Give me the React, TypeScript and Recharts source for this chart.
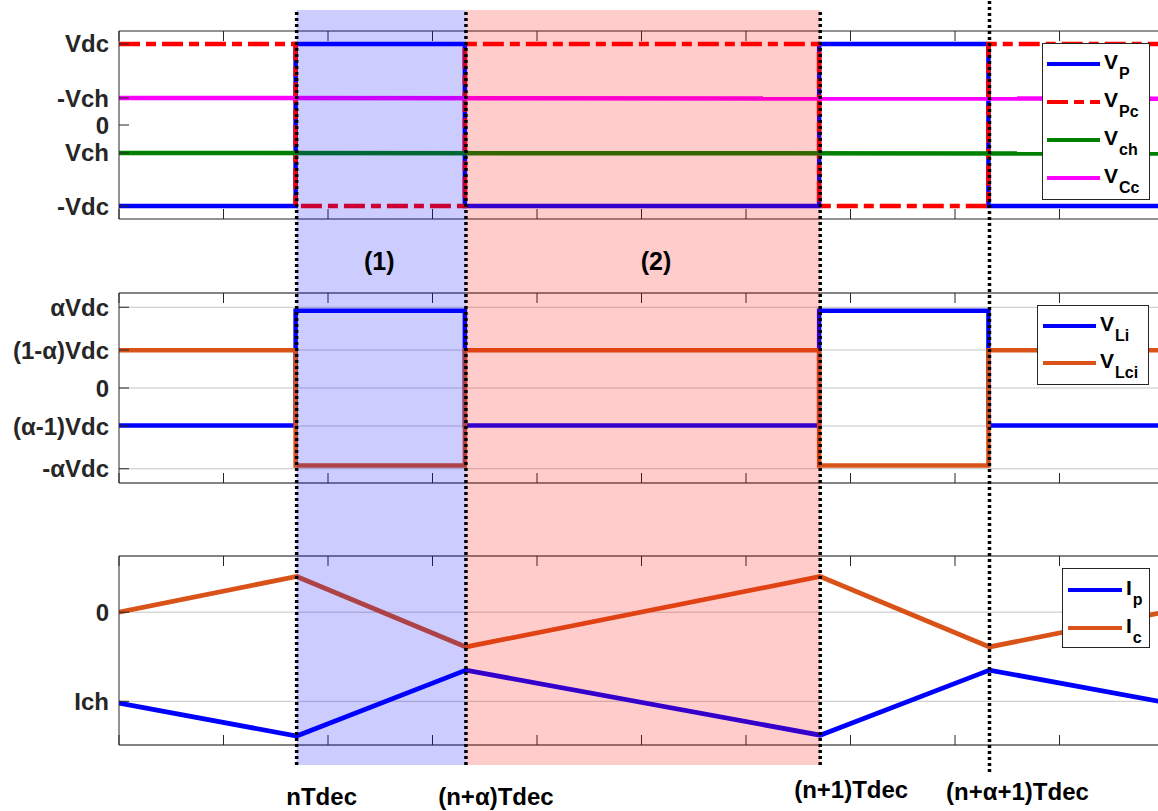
import React from 'react';
import {
  LineChart,
  Line,
  XAxis,
  YAxis,
  CartesianGrid,
  Legend,
  ReferenceArea,
  ReferenceLine,
  ComposedChart,
} from 'recharts';

const FONT = '"Liberation Sans", Arial, Helvetica, sans-serif';
const AXIS = '#262626';

// ---------- data (x in units of one axis tick) ----------
const xTicks = [0, 1, 2, 3, 4, 5, 6, 7, 8, 9, 10];

const stepTimes = [0, 1.69, 1.69, 3.31, 3.31, 6.7, 6.7, 8.32, 8.32, 10];
const vP = [-1, -1, 1, 1, -1, -1, 1, 1, -1, -1];
const vPc = [1, 1, -1, -1, 1, 1, -1, -1, 1, 1];
const flatTimes = [0, 10];
const vCh = [-0.345, -0.352];
const vCc = [0.333, 0.325];

const vLi = [-0.315, -0.315, 0.65, 0.65, -0.315, -0.315, 0.65, 0.65, -0.315, -0.315];
const vLci = [0.317, 0.317, -0.653, -0.653, 0.317, 0.317, -0.653, -0.653, 0.317, 0.317];

const rampTimes = [0, 1.7, 3.32, 6.71, 8.33, 10];
const iP = [-1.02, -1.39, -0.65, -1.38, -0.65, -1.01];
const iC = [0, 0.4, -0.39, 0.4, -0.39, 0.0];

const switchTimes = [1.7, 3.32, 6.71, 8.33];
const switchLabels = ['nTdec', '(n+α)Tdec', '(n+1)Tdec', '(n+α+1)Tdec'];

const regionStarts = [1.7, 3.32];
const regionEnds = [3.32, 6.71];
const regionLabels = ['(1)', '(2)'];

const p1Ticks = [1, 0.333, 0, -0.345, -1];
const p1Labels = ['Vdc', '-Vch', '0', 'Vch', '-Vdc'];
const p2Ticks = [0.68, 0.32, 0, -0.32, -0.68];
const p2Labels = ['αVdc', '(1-α)Vdc', '0', '(α-1)Vdc', '-αVdc'];
const p3Ticks = [0, -1];
const p3Labels = ['0', 'Ich'];

// ---------- styles ----------
const regionColors = ['#0000ff', '#ff0000'];
const regionLabelShift = [-2, 13];
const switchLabelShift = [
  { dx: 25, dy: 40 },
  { dx: 30, dy: 40 },
  { dx: 31, dy: 33 },
  { dx: 28, dy: 35 },
];

const zip = (ts: number[], vs: number[]) => ts.map((t, i) => ({ t, y: vs[i] }));

type Series = {
  name: string;
  main: string;
  sub: string;
  data: { t: number; y: number }[];
  color: string;
  width: number;
  dash?: string;
};

const panel1: Series[] = [
  { name: 'VP', main: 'V', sub: 'P', data: zip(stepTimes, vP), color: '#0000ff', width: 4.5 },
  { name: 'VPc', main: 'V', sub: 'Pc', data: zip(stepTimes, vPc), color: '#ff0000', width: 4.5, dash: '21 6 10 6' },
  { name: 'Vch', main: 'V', sub: 'ch', data: zip(flatTimes, vCh), color: '#008000', width: 4.5 },
  { name: 'VCc', main: 'V', sub: 'Cc', data: zip(flatTimes, vCc), color: '#ff00ff', width: 4.5 },
];
const panel2: Series[] = [
  { name: 'VLi', main: 'V', sub: 'Li', data: zip(stepTimes, vLi), color: '#0000ff', width: 4.5 },
  { name: 'VLci', main: 'V', sub: 'Lci', data: zip(stepTimes, vLci), color: '#d95319', width: 4.5 },
];
const panel3: Series[] = [
  { name: 'Ip', main: 'I', sub: 'p', data: zip(rampTimes, iP), color: '#0000ff', width: 4.8 },
  { name: 'Ic', main: 'I', sub: 'c', data: zip(rampTimes, iC), color: '#d95319', width: 4.8 },
];

function EmptyTick() {
  return <g />;
}

function LegendBox(props: any) {
  const { payload, series, w, h, rowY, sampleX1, sampleX2, textX } = props;
  const items = (payload || []) as any[];
  return (
    <svg width={w} height={h} style={{ display: 'block' }}>
      <rect x={0.5} y={0.5} width={w - 1} height={h - 1} fill="#fff" stroke="#262626" strokeWidth={1} />
      {(series as Series[]).map((s: Series, i: number) => {
        const it = items.find((q: any) => q.value === s.name);
        const y = rowY[i];
        return (
          <g key={i}>
            <line
              x1={sampleX1}
              x2={sampleX2}
              y1={y}
              y2={y}
              stroke={(it && it.color) || s.color}
              strokeWidth={4}
              strokeDasharray={s.dash}
            />
            <text x={textX} y={y + 5} fontFamily={FONT} fontWeight="bold" fill="#000">
              <tspan fontSize={21}>{s.main}</tspan>
              <tspan fontSize={16} dx={1} dy={10}>
                {s.sub}
              </tspan>
            </text>
          </g>
        );
      })}
    </svg>
  );
}

type PanelProps = {
  top: number;
  height: number;
  marginTop: number;
  domain: [number, number];
  ticks: number[];
  labels: string[];
  grid: boolean;
  series: Series[];
  legend: { left: number; top: number; w: number; h: number; rowY: number[]; sampleX1: number; sampleX2: number; textX: number };
};

function Panel(p: PanelProps) {
  return (
    <div style={{ position: 'absolute', left: 0, top: p.top }}>
      <LineChart width={1170} height={p.height} margin={{ top: p.marginTop, right: 6, bottom: 5, left: 9 }}>
        {p.grid && (
          <CartesianGrid xAxisId="b" horizontal vertical={false} stroke="#c4c4c4" strokeWidth={1} />
        )}
        <XAxis
          xAxisId="b"
          type="number"
          dataKey="t"
          domain={[0, 10]}
          ticks={xTicks}
          interval={0}
          height={1}
          mirror
          tickSize={10}
          tick={<EmptyTick />}
          tickLine={{ stroke: AXIS }}
          stroke={AXIS}
          allowDataOverflow
        />
        <XAxis
          xAxisId="top"
          orientation="top"
          type="number"
          dataKey="t"
          domain={[0, 10]}
          ticks={xTicks}
          interval={0}
          height={1}
          mirror
          tickSize={10}
          tick={<EmptyTick />}
          tickLine={{ stroke: AXIS }}
          stroke={AXIS}
          allowDataOverflow
        />
        <YAxis
          type="number"
          domain={p.domain}
          ticks={p.ticks}
          interval={0}
          width={110}
          tickSize={0}
          tickMargin={10}
          tickLine={false}
          stroke={AXIS}
          allowDataOverflow
          tickFormatter={(v: number) => p.labels[p.ticks.indexOf(v)]}
          tick={{ fontSize: 24, fontWeight: 'bold', fill: '#262626', fontFamily: FONT }}
        />
        <YAxis
          yAxisId="inner"
          type="number"
          domain={p.domain}
          ticks={p.ticks}
          interval={0}
          width={1}
          mirror
          tickSize={10}
          tick={<EmptyTick />}
          tickLine={{ stroke: AXIS }}
          axisLine={false}
          stroke={AXIS}
          allowDataOverflow
        />
        {p.series.map((s) => (
          <Line
            key={s.name}
            xAxisId="b"
            name={s.name}
            data={s.data}
            dataKey="y"
            type="linear"
            stroke={s.color}
            strokeWidth={s.width}
            strokeDasharray={s.dash}
            dot={false}
            activeDot={false}
            isAnimationActive={false}
          />
        ))}
        <Legend
          layout="vertical"
          align="center"
          verticalAlign="middle"
          wrapperStyle={{
            position: 'absolute',
            left: p.legend.left,
            top: p.legend.top,
            width: p.legend.w,
            height: p.legend.h,
            margin: 0,
            padding: 0,
          }}
          content={(lp: any) => (
            <LegendBox
              payload={lp.payload}
              series={p.series}
              w={p.legend.w}
              h={p.legend.h}
              rowY={p.legend.rowY}
              sampleX1={p.legend.sampleX1}
              sampleX2={p.legend.sampleX2}
              textX={p.legend.textX}
            />
          )}
        />
      </LineChart>
    </div>
  );
}

function SwitchTick(props: any) {
  const { x, y, payload } = props;
  const i = switchTimes.indexOf(payload.value);
  if (i < 0) return null;
  const sh = switchLabelShift[i];
  return (
    <text
      x={x + sh.dx}
      y={y + sh.dy}
      textAnchor="middle"
      fontFamily={FONT}
      fontWeight="bold"
      fontSize={24}
      fill="#000"
    >
      {switchLabels[i]}
    </text>
  );
}

function RegionLabel(props: any) {
  const { viewBox, text, shift } = props;
  if (!viewBox) return null;
  return (
    <text
      x={viewBox.x + viewBox.width / 2 + shift}
      y={viewBox.y + 260}
      textAnchor="middle"
      fontFamily={FONT}
      fontWeight="bold"
      fontSize={25}
      fill="#000"
    >
      {text}
    </text>
  );
}

export default function App() {
  return (
    <div
      style={{
        position: 'absolute',
        left: 0,
        top: 0,
        width: 1158,
        height: 811,
        overflow: 'hidden',
        background: '#fff',
      }}
    >
      <Panel
        top={0}
        height={224}
        marginTop={31}
        domain={[-1.16, 1.16]}
        ticks={p1Ticks}
        labels={p1Labels}
        grid={false}
        series={panel1}
        legend={{ left: 1042, top: 43, w: 108, h: 157, rowY: [21, 59, 97, 135], sampleX1: 5, sampleX2: 58, textX: 62 }}
      />
      <Panel
        top={260}
        height={228}
        marginTop={33}
        domain={[-0.8, 0.8]}
        ticks={p2Ticks}
        labels={p2Labels}
        grid={true}
        series={panel2}
        legend={{ left: 1037, top: 45, w: 112, h: 80, rowY: [21, 58], sampleX1: 6, sampleX2: 59, textX: 63 }}
      />
      <Panel
        top={530}
        height={220}
        marginTop={26}
        domain={[-1.49, 0.63]}
        ticks={p3Ticks}
        labels={p3Labels}
        grid={true}
        series={panel3}
        legend={{ left: 1062, top: 38, w: 88, h: 80, rowY: [22, 60], sampleX1: 6, sampleX2: 60, textX: 64 }}
      />
      <div style={{ position: 'absolute', left: 0, top: 0, pointerEvents: 'none' }}>
        <ComposedChart
          width={1170}
          height={811}
          margin={{ top: 10, right: 6, bottom: 0, left: 119 }}
          data={switchTimes.map((t) => ({ t }))}
        >
          <XAxis
            type="number"
            dataKey="t"
            domain={[0, 10]}
            ticks={switchTimes}
            interval={0}
            height={46}
            axisLine={false}
            tickLine={false}
            tickSize={0}
            tickMargin={0}
            tick={<SwitchTick />}
            allowDataOverflow
          />
          <YAxis type="number" domain={[0, 1]} hide allowDataOverflow />
          {regionStarts.map((x1, i) => (
            <ReferenceArea
              key={'r' + i}
              x1={x1}
              x2={regionEnds[i]}
              fill={regionColors[i]}
              fillOpacity={0.2}
              stroke="none"
              ifOverflow="visible"
              label={<RegionLabel text={regionLabels[i]} shift={regionLabelShift[i]} />}
            />
          ))}
          {switchTimes.map((t, i) =>
            i === 3 ? (
              <ReferenceLine
                key={'l' + i}
                segment={[
                  { x: t, y: -0.0093 },
                  { x: t, y: 1.013 },
                ]}
                stroke="#000"
                strokeWidth={3.5}
                strokeDasharray="3 3"
                ifOverflow="visible"
              />
            ) : (
              <ReferenceLine
                key={'l' + i}
                x={t}
                stroke="#000"
                strokeWidth={3.5}
                strokeDasharray="3 3"
                ifOverflow="visible"
              />
            )
          )}
        </ComposedChart>
      </div>
    </div>
  );
}
